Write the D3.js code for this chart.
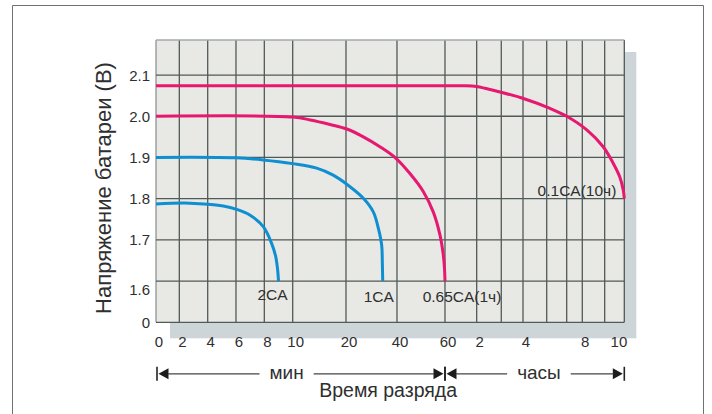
<!DOCTYPE html>
<html>
<head>
<meta charset="utf-8">
<script src="https://cdn.jsdelivr.net/npm/d3@7/dist/d3.min.js"></script>
<style>
  body { margin: 0; background: #fff; }
  text { font-family: "Liberation Sans", Arial, Helvetica, sans-serif; fill: #2f2f2f; }
</style>
</head>
<body>
<svg id="chart" width="712" height="414"></svg>
<script>
// --- данные ---
// линии сетки по времени (мин): 0..60 мин, затем 2..10 ч
const gridMinutes = [0, 2, 4, 6, 8, 10, 20, 40, 60, 120, 180, 240, 300, 360, 480, 540, 600];
const minuteTicks = [0, 2, 4, 6, 8, 10, 20, 40, 60];
const hourTicks = [2, 4, 8, 10];
const voltTicks = [1.5, 1.6, 1.7, 1.8, 1.9, 2.0, 2.1];
const voltLabels = ['0', '1.6', '1.7', '1.8', '1.9', '2.0', '2.1'];
const voltGrid = [1.6, 1.7, 1.8, 1.9, 2.0, 2.1];

const seriesNames = ['2CA', '1CA', '0.65CA(1ч)', '0.1CA(10ч)'];
// [время, мин ; напряжение, В]
const curve2CA = [[0, 1.787], [2.75, 1.789], [5.1, 1.782], [6.05, 1.774], [7, 1.76], [7.93, 1.732], [8.52, 1.691], [8.8, 1.66], [8.93, 1.63], [9, 1.6]];
const curve1CA = [[0, 1.9], [6, 1.899], [7.9, 1.894], [10, 1.885], [14.5, 1.874], [17.6, 1.857], [20.3, 1.835], [26.8, 1.801], [30.7, 1.768], [32.7, 1.728], [34, 1.687], [34.25, 1.645], [34.4, 1.6]];
const curve065CA = [[0, 2.0], [10, 1.998], [13.3, 1.991], [17, 1.98], [20.3, 1.969], [26.8, 1.95], [33.3, 1.926], [39.6, 1.898], [45.4, 1.861], [51, 1.817], [55.1, 1.768], [57.9, 1.712], [59.3, 1.663], [59.8, 1.63], [60, 1.6]];
const curve01CA = [[0, 2.074], [60, 2.074], [100, 2.074], [120, 2.072], [140, 2.068], [177, 2.059], [241, 2.043], [310, 2.019], [360, 2.0], [492, 1.967], [536, 1.926], [566, 1.886], [586, 1.853], [597, 1.82], [600, 1.8]];

const yTitle = 'Напряжение батареи (В)';
const xTitle = 'Время разряда';
const unitMin = 'мин';
const unitHour = 'часы';

// --- оформление ---
const PINK = '#e6186f', BLUE = '#0e8fd2';
const series = [
  { name: seriesNames[0], data: curve2CA, color: BLUE, dx: -6, dy: 19, anchor: 'middle' },
  { name: seriesNames[1], data: curve1CA, color: BLUE, dx: -4, dy: 21, anchor: 'middle' },
  { name: seriesNames[2], data: curve065CA, color: PINK, dx: 17, dy: 21, anchor: 'middle' },
  { name: seriesNames[3], data: curve01CA, color: PINK, dx: -8, dy: -3, anchor: 'end' },
];

const margin = { left: 156, top: 40 };
const width = 468.3, height = 282.3;
// неравномерная шкала времени: доли ширины поля для каждой линии сетки
const gridFrac = [0, 0.0498, 0.1104, 0.1708, 0.2313, 0.2919, 0.4057, 0.5146, 0.6171,
  0.6848, 0.7373, 0.7837, 0.8343, 0.8770, 0.9103, 0.9581, 1];
const labelNudge = { 1.6: 8 };

const svg = d3.select('#chart');

const x = d3.scaleLinear().domain(gridMinutes).range(gridFrac.map(f => f * width));
const y = d3.scaleLinear().domain([1.5, 2.185]).range([height, 0]);

// рамка
svg.append('path')
  .attr('d', 'M12.5,420 V5.5 H703.5 V420')
  .attr('fill', 'none').attr('stroke', '#707070').attr('stroke-width', 1);

const g = svg.append('g').attr('transform', `translate(${margin.left},${margin.top})`);

// тень и поле
g.append('rect').attr('x', 14).attr('y', 12).attr('width', width - 2).attr('height', height + 4)
  .attr('fill', '#ced5d8');
g.append('rect').attr('width', width).attr('height', height).attr('fill', '#e8e8e4');

// сетка
g.append('g').selectAll('line').data(gridMinutes).join('line')
  .attr('x1', d => x(d)).attr('x2', d => x(d))
  .attr('y1', 0).attr('y2', height)
  .attr('stroke', d => (d === 0 ? '#8d9593' : '#505a58')).attr('stroke-width', 1.3);
g.append('g').selectAll('line').data(voltGrid).join('line')
  .attr('x1', 0).attr('x2', width)
  .attr('y1', d => y(d)).attr('y2', d => y(d))
  .attr('stroke', '#505a58').attr('stroke-width', 1.3);
g.append('line').attr('x1', 0).attr('x2', width).attr('y1', 0).attr('y2', 0)
  .attr('stroke', '#a4abaa').attr('stroke-width', 1.3);
g.append('line').attr('x1', 0).attr('x2', width).attr('y1', height).attr('y2', height)
  .attr('stroke', '#505a58').attr('stroke-width', 1.3);

// подписи оси Y
g.append('g').selectAll('text').data(voltTicks).join('text')
  .attr('x', -6)
  .attr('y', d => y(d) + 5.5 + (labelNudge[d] || 0))
  .attr('text-anchor', 'end')
  .attr('font-size', 15)
  .text((d, i) => voltLabels[i]);

// подписи оси X
const xTicks = minuteTicks.map(m => ({ v: m, t: String(m) }))
  .concat(hourTicks.map(h => ({ v: h * 60, t: String(h) })));
g.append('g').selectAll('text').data(xTicks).join('text')
  .attr('x', (d, i) => x(d.v) + 3)
  .attr('y', height + 25)
  .attr('text-anchor', (d, i) => (i === xTicks.length - 1 ? 'end' : 'middle'))
  .attr('font-size', 15)
  .text(d => d.t);

// кривые разряда
const line = d3.line()
  .x(d => x(d[0]))
  .y(d => y(d[1]))
  .curve(d3.curveCatmullRom.alpha(0.5));

g.append('g').selectAll('path').data(series).join('path')
  .attr('d', d => line(d.data))
  .attr('fill', 'none')
  .attr('stroke', d => d.color)
  .attr('stroke-width', 3)
  .attr('stroke-linecap', 'butt');

g.append('g').selectAll('text').data(series).join('text')
  .attr('x', d => x(d.data[d.data.length - 1][0]) + d.dx)
  .attr('y', d => y(d.data[d.data.length - 1][1]) + d.dy)
  .attr('text-anchor', d => d.anchor)
  .attr('font-size', 15.5)
  .text(d => d.name);

// стрелки диапазонов "мин" / "часы"
const ay = height + 51.5;
const arrows = g.append('g');
function bar(px) {
  arrows.append('line').attr('x1', px).attr('x2', px).attr('y1', ay - 7).attr('y2', ay + 7)
    .attr('stroke', '#222').attr('stroke-width', 1.6);
}
function head(px, dir) {
  arrows.append('path')
    .attr('d', `M${px},${ay} L${px - dir * 10},${ay - 5.5} L${px - dir * 10},${ay + 5.5} Z`)
    .attr('fill', '#1c1c1c');
}
function span(x0, x1, label, frac) {
  bar(x0); bar(x1);
  head(x0 + 1.5, -1);
  head(x1 - 1.5, 1);
  const cx = x0 + frac * (x1 - x0);
  const t = arrows.append('text')
    .attr('x', cx).attr('y', ay + 5.5)
    .attr('text-anchor', 'middle').attr('font-size', 19)
    .text(label);
  const w = t.node().getComputedTextLength();
  [[x0 + 11, cx - w / 2 - 10], [cx + w / 2 + 10, x1 - 11]].forEach(([a, b]) => {
    arrows.append('line').attr('x1', a).attr('x2', b).attr('y1', ay).attr('y2', ay)
      .attr('stroke', '#444').attr('stroke-width', 1.2);
  });
}
span(x(0) + 1, x(60), unitMin, 0.45);
span(x(60), x(600), unitHour, 0.524);

// заголовки осей
g.append('text')
  .attr('x', width / 2 - 2).attr('y', height + 74.5)
  .attr('text-anchor', 'middle').attr('font-size', 19.5)
  .text(xTitle);
g.append('text')
  .attr('transform', `translate(${111 - margin.left},${188 - margin.top}) rotate(-90)`)
  .attr('text-anchor', 'middle').attr('font-size', 22)
  .text(yTitle);
</script>
</body>
</html>
